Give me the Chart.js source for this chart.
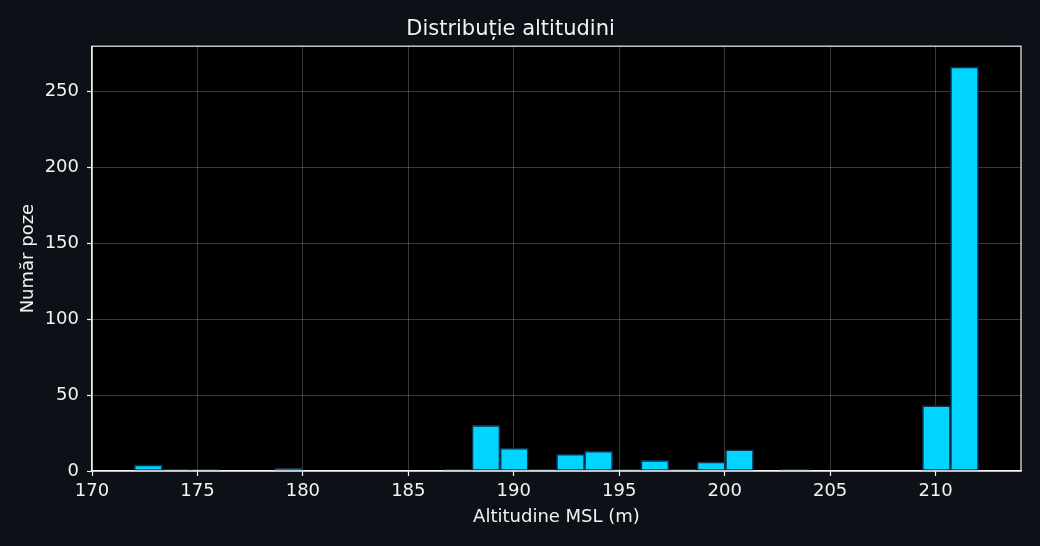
<!DOCTYPE html>
<html>
<head>
<meta charset="utf-8">
<script src="https://cdn.jsdelivr.net/npm/chart.js@4.4.1/dist/chart.umd.min.js"></script>
<style>
  html, body { margin:0; padding:0; background:#0d1117; }
  #wrap { width:1040px; height:546px; position:relative; }
</style>
</head>
<body>
<div id="wrap"><canvas id="chart-alt"></canvas></div>
<script>
// histogram bins (centers, m) and counts
const binCenters = [172.67, 174.00, 175.34, 176.67, 178.01, 179.34, 180.68, 182.01, 183.34, 184.68,
                    186.01, 187.35, 188.68, 190.02, 191.35, 192.69, 194.02, 195.36, 196.69, 198.03,
                    199.36, 200.70, 202.03, 203.36, 204.70, 206.03, 207.37, 208.70, 210.04, 211.37];
const counts = [4, 1, 1, 0, 0, 2, 0, 0, 0, 0,
                0, 1, 30, 15, 1, 11, 13, 1, 7, 1,
                6, 14, 0, 1, 0, 0, 0, 0, 43, 266];
const xTicks = [170, 175, 180, 185, 190, 195, 200, 205, 210];
const yTicks = [0, 50, 100, 150, 200, 250];

const font = 'DejaVu Sans';
const textCol = '#f2f2f2';

// black plot area + full frame (matplotlib spines)
const frame = {
  id:'frame',
  beforeDraw(chart){
    const a = chart.chartArea, c = chart.ctx;
    c.save(); c.fillStyle = '#000'; c.fillRect(a.left, a.top, a.width, a.height); c.restore();
  },
  afterDraw(chart){
    const a = chart.chartArea, c = chart.ctx;
    c.save(); c.strokeStyle = '#f2f2f2'; c.lineWidth = 1.2;
    c.strokeRect(a.left, a.top, a.width, a.height); c.restore();
  }
};

new Chart(document.getElementById('chart-alt').getContext('2d'), {
  type:'bar',
  data:{ datasets:[{
    data: binCenters.map((x,i) => ({x, y: counts[i]})),
    backgroundColor:'#00d4ff', borderColor:'#10304c', borderWidth:1.6, borderSkipped:false,
    barPercentage:1.0, categoryPercentage:1.0
  }]},
  options:{
    responsive:true, maintainAspectRatio:false, animation:false,
    layout:{ padding:{ left:0, right:19, top:0, bottom:0 } },
    plugins:{
      legend:{display:false}, tooltip:{enabled:false},
      title:{ display:true, text:'Distribuție altitudini', color:textCol,
              font:{family:font, size:21, weight:'normal'}, padding:{top:17, bottom:4} }
    },
    scales:{
      x:{ type:'linear', min:170, max:214.05, z:1, offset:false,
          afterBuildTicks: s => { s.ticks = xTicks.map(v => ({value:v})); },
          afterFit: s => { s.height = 75; },
          ticks:{ color:textCol, font:{family:font, size:18}, padding:5, maxRotation:0 },
          grid:{ offset:false, color:'rgba(255,255,255,0.22)', lineWidth:1, tickColor:'#f2f2f2', tickLength:5, tickWidth:1.2 },
          border:{ color:'#f2f2f2', width:1.2 },
          title:{ display:true, text:'Altitudine MSL (m)', color:textCol,
                  font:{family:font, size:18}, padding:{top:0, bottom:18} } },
      y:{ min:0, max:279.6, z:1,
          afterBuildTicks: s => { s.ticks = yTicks.map(v => ({value:v})); },
          afterFit: s => { s.width = 92; },
          ticks:{ color:textCol, font:{family:font, size:18}, padding:8 },
          grid:{ color:'rgba(255,255,255,0.22)', lineWidth:1, tickColor:'#f2f2f2', tickLength:5, tickWidth:1.2 },
          border:{ color:'#f2f2f2', width:1.2 },
          title:{ display:true, text:'Număr poze', color:textCol,
                  font:{family:font, size:18}, padding:{top:18, bottom:0} } }
    }
  },
  plugins:[frame]
});
</script>
</body>
</html>
